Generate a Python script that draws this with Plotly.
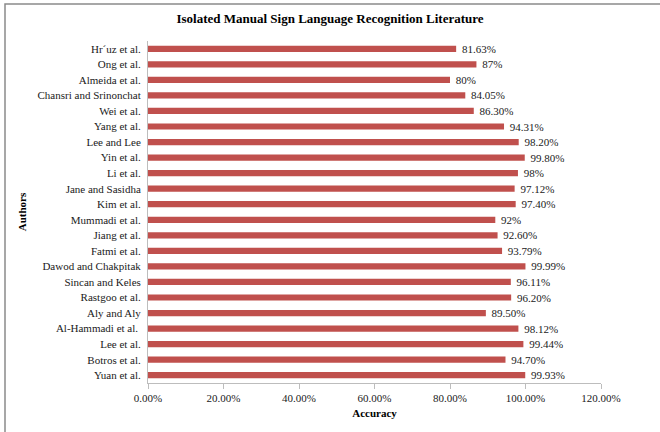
import plotly.graph_objects as go

authors = ["Hr\u00b4uz et al.", "Ong et al.", "Almeida et al.", "Chansri and Srinonchat",
           "Wei et al.", "Yang et al.", "Lee and Lee", "Yin et al.", "Li et al.",
           "Jane and Sasidha", "Kim et al.", "Mummadi et al.", "Jiang et al.",
           "Fatmi et al.", "Dawod and Chakpitak", "Sincan and Keles", "Rastgoo et al.",
           "Aly and Aly", "Al-Hammadi et al.\u00a0", "Lee et al.", "Botros et al.", "Yuan et al."]
accuracy = [81.63, 87, 80, 84.05, 86.30, 94.31, 98.20, 99.80, 98, 97.12, 97.40, 92,
            92.60, 93.79, 99.99, 96.11, 96.20, 89.50, 98.12, 99.44, 94.70, 99.93]
x_ticks = [0, 20, 40, 60, 80, 100, 120]

labels = ["\u00a0" + (f"{v:g}%" if float(v).is_integer() else f"{v:.2f}%") for v in accuracy]

font_family = "Liberation Serif"

fig = go.Figure(go.Bar(
    y=authors, x=accuracy, orientation="h",
    marker=dict(color="#C0504D", line=dict(width=0)),
    text=labels, textposition="outside", cliponaxis=False, constraintext="none",
    textfont=dict(family=font_family, size=11, color="#1a1a1a"),
    width=0.4,
))

fig.update_layout(
    width=660, height=432,
    margin=dict(l=148, r=59, t=41, b=49),
    paper_bgcolor="white", plot_bgcolor="white",
    showlegend=False,
    font=dict(family=font_family, size=11, color="#1a1a1a"),
    title=dict(text="<b>Isolated Manual Sign Language Recognition Literature</b>",
               x=0.5, xanchor="center", y=0.958, yanchor="middle",
               font=dict(family=font_family, size=13, color="black")),
    shapes=[dict(type="rect", xref="paper", yref="paper",
                 x0=(5 - 148) / 453, x1=1.3, y0=-0.3, y1=1 + 37 / 342,
                 line=dict(color="#8a8a8a", width=1.5), layer="below")],
)

fig.update_xaxes(
    range=[0, 120], tickvals=x_ticks, ticktext=[f"{v:.2f}%" for v in x_ticks],
    showgrid=False, zeroline=False, showline=True, linecolor="#bdbdbd", linewidth=1,
    ticks="outside", ticklen=5, tickcolor="#bdbdbd",
    title=dict(text="<b>Accuracy</b>", font=dict(family=font_family, size=11, color="black"), standoff=6),
    tickfont=dict(family=font_family, size=11, color="#1a1a1a"),
)
fig.update_yaxes(
    autorange="reversed", showgrid=False, showline=True, linecolor="#bdbdbd", linewidth=1,
    ticks="", ticklabelstandoff=4,
    title=dict(text="<b>Authors</b>", font=dict(family=font_family, size=11, color="black"), standoff=8),
    tickfont=dict(family=font_family, size=11, color="#1a1a1a"),
)

fig.write_html("out.html", config={"displayModeBar": False},
               post_script="document.body.style.margin='0';")
